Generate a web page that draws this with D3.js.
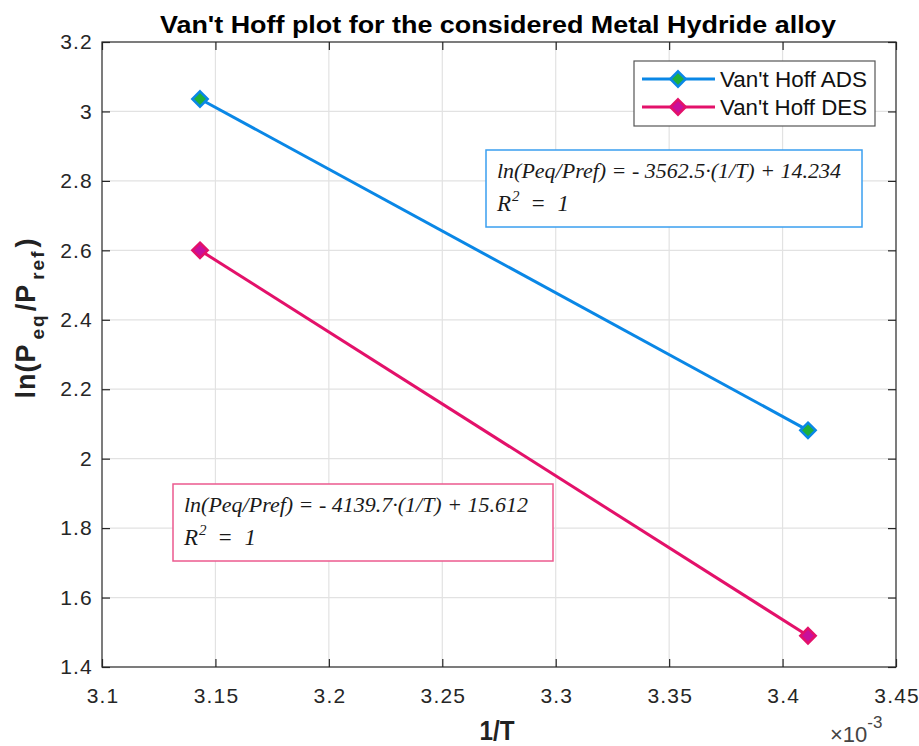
<!DOCTYPE html>
<html><head><meta charset="utf-8">
<script src="https://cdn.jsdelivr.net/npm/d3@7"></script>
<style>body{margin:0;background:#fff;} svg{display:block;}</style>
</head><body><svg id="c" width="919" height="746"></svg>
<script>
// ---- data ----
const invT = [3.1432e-3, 3.4112e-3];
const adsValues = [3.036, 2.0816];
const desValues = [2.600, 1.490];
const seriesNames = ["Van't Hoff ADS", "Van't Hoff DES"];
const xTickValues = [3.10e-3, 3.15e-3, 3.20e-3, 3.25e-3, 3.30e-3, 3.35e-3, 3.40e-3, 3.45e-3];
const xTickLabels = ["3.1", "3.15", "3.2", "3.25", "3.3", "3.35", "3.4", "3.45"];
const yTickValues = [1.4, 1.6, 1.8, 2.0, 2.2, 2.4, 2.6, 2.8, 3.0, 3.2];
const yTickLabels = ["1.4", "1.6", "1.8", "2", "2.2", "2.4", "2.6", "2.8", "3", "3.2"];
const fitEquations = ["ln(Peq/Pref) = - 3562.5·(1/T) + 14.234", "ln(Peq/Pref) = - 4139.7·(1/T) + 15.612"];
const fitR2 = ["1", "1"];
const titleText = "Van't Hoff plot for the considered Metal Hydride alloy";

// ---- layout ----
const L = 102, R = 896, T = 42, B = 667;
const axisColor = "#262626";
const adsColor = "#0a87e6", adsFill = "#1fb03a";
const desColor = "#e3116a", desFill = "#c8109c";

const svg = d3.select("#c");
const x = d3.scaleLinear().domain([3.1e-3, 3.45e-3]).range([L, R]);
const y = d3.scaleLinear().domain([1.4, 3.2]).range([B, T]);

// grid
const g = svg.append("g");
g.selectAll(".gx").data(xTickValues.slice(1, -1)).enter().append("line")
  .attr("x1", d => x(d)).attr("x2", d => x(d)).attr("y1", T).attr("y2", B)
  .attr("stroke", "#e2e2e2").attr("stroke-width", 1.2);
g.selectAll(".gy").data(yTickValues.slice(1, -1)).enter().append("line")
  .attr("y1", d => y(d)).attr("y2", d => y(d)).attr("x1", L).attr("x2", R)
  .attr("stroke", "#e2e2e2").attr("stroke-width", 1.2);

// axes
function styleAxis(sel, labels) {
  sel.select(".domain").remove();
  sel.selectAll(".tick line").attr("stroke", axisColor).attr("stroke-width", 1.2);
  sel.selectAll(".tick text").attr("fill", axisColor)
    .style("font-family", "Arial, 'Liberation Sans', sans-serif")
    .style("font-size", "21px").style("letter-spacing", "1.2px");
  if (!labels) sel.selectAll(".tick text").remove();
}
const fmtX = (d, i) => xTickLabels[i];
const fmtY = (d, i) => yTickLabels[i];
const xb = svg.append("g").attr("transform", `translate(0,${B})`)
  .call(d3.axisBottom(x).tickValues(xTickValues).tickFormat(fmtX).tickSize(-8).tickPadding(21))
  .call(s => styleAxis(s, true));
xb.selectAll(".tick text").attr("dx", "0.6px");
svg.append("g").attr("transform", `translate(0,${T})`)
  .call(d3.axisTop(x).tickValues(xTickValues).tickFormat(fmtX).tickSize(-8))
  .call(s => styleAxis(s, false));
svg.append("g").attr("transform", `translate(${L},0)`)
  .call(d3.axisLeft(y).tickValues(yTickValues).tickFormat(fmtY).tickSize(-8).tickPadding(9))
  .call(s => styleAxis(s, true));
svg.append("g").attr("transform", `translate(${R},0)`)
  .call(d3.axisRight(y).tickValues(yTickValues).tickFormat(fmtY).tickSize(-8))
  .call(s => styleAxis(s, false));
svg.append("rect").attr("x", L).attr("y", T).attr("width", R - L).attr("height", B - T)
  .attr("fill", "none").attr("stroke", axisColor).attr("stroke-width", 1.2);

// series
const diamond = d3.symbol().type(d3.symbolDiamond2).size(150);
const series = [
  { name: seriesNames[0], vals: adsValues, color: adsColor, fill: adsFill },
  { name: seriesNames[1], vals: desValues, color: desColor, fill: desFill }
];
const line = d3.line().x(d => x(d[0])).y(d => y(d[1]));
series.forEach(s => {
  const pts = invT.map((t, i) => [t, s.vals[i]]);
  svg.append("path").attr("d", line(pts)).attr("fill", "none")
    .attr("stroke", s.color).attr("stroke-width", 3);
  svg.selectAll(null).data(pts).enter().append("path")
    .attr("d", diamond).attr("transform", d => `translate(${x(d[0])},${y(d[1])})`)
    .attr("fill", s.fill).attr("stroke", s.color).attr("stroke-width", 2.5);
});

// fit annotation boxes
function fitBox(bx, by, bw, bh, color, eq, r2) {
  svg.append("rect").attr("x", bx).attr("y", by).attr("width", bw).attr("height", bh)
    .attr("fill", "#fff").attr("stroke", color).attr("stroke-width", 1.5);
  const font = "'Times New Roman', 'Liberation Serif', serif";
  svg.append("text").attr("x", bx + 11).attr("y", by + 28).text(eq)
    .attr("textLength", 344).attr("lengthAdjust", "spacingAndGlyphs")
    .style("font-family", font).style("font-style", "italic").style("font-size", "22px").attr("fill", "#1a1a1a");
  const t2 = svg.append("text").attr("x", bx + 11).attr("y", by + 61)
    .style("font-family", font).style("font-style", "italic").style("font-size", "23px").attr("fill", "#1a1a1a");
  t2.append("tspan").text("R");
  t2.append("tspan").text("2").attr("dy", -10).attr("dx", 1).style("font-size", "15px");
  t2.append("tspan").text(" = ").attr("dy", 10).attr("dx", 2).style("letter-spacing", "3px");
  t2.append("tspan").text(r2);
}
fitBox(486, 150, 376, 77, "#3a9fef", fitEquations[0], fitR2[0]);
fitBox(173, 484, 380, 77, "#ec5a8e", fitEquations[1], fitR2[1]);

// legend
const lg = svg.append("g");
lg.append("rect").attr("x", 634).attr("y", 61).attr("width", 241).attr("height", 65)
  .attr("fill", "#fff").attr("stroke", "#555").attr("stroke-width", 1.2);
series.forEach((s, i) => {
  const yy = 79 + i * 28;
  lg.append("line").attr("x1", 642).attr("x2", 715).attr("y1", yy).attr("y2", yy)
    .attr("stroke", s.color).attr("stroke-width", 3);
  lg.append("path").attr("d", diamond).attr("transform", `translate(678,${yy})`)
    .attr("fill", s.fill).attr("stroke", s.color).attr("stroke-width", 2.5);
  lg.append("text").attr("x", 720).attr("y", yy + 8).text(s.name)
    .attr("textLength", 147).attr("lengthAdjust", "spacingAndGlyphs")
    .style("font-family", "Arial, 'Liberation Sans', sans-serif").style("font-size", "22px").attr("fill", "#111");
});

// title
svg.append("text").attr("x", 498).attr("y", 33).attr("text-anchor", "middle").text(titleText)
  .attr("textLength", 676).attr("lengthAdjust", "spacingAndGlyphs")
  .style("font-family", "Arial, 'Liberation Sans', sans-serif").style("font-weight", "bold").style("font-size", "24px").attr("fill", "#000");

// x label
svg.append("text").attr("x", 497).attr("y", 740).attr("text-anchor", "middle").text("1/T")
  .attr("textLength", 35).attr("lengthAdjust", "spacingAndGlyphs")
  .style("font-family", "Arial, 'Liberation Sans', sans-serif").style("font-weight", "bold").style("font-size", "27px").attr("fill", "#222");

// exponent
const ex = svg.append("text").attr("x", 830).attr("y", 742).attr("fill", "#444")
  .style("font-family", "Arial, 'Liberation Sans', sans-serif").style("font-size", "22px");
ex.append("tspan").text("×10");
ex.append("tspan").text("-3").attr("dy", -14).style("font-size", "17px");

// y label
const yl = svg.append("text").attr("transform", "translate(35,318) rotate(-90)").attr("text-anchor", "middle")
  .style("font-family", "Arial, 'Liberation Sans', sans-serif").style("font-weight", "bold").style("font-size", "27px")
  .style("letter-spacing", "1px").attr("fill", "#222");
yl.append("tspan").text("ln(P");
yl.append("tspan").text("eq").attr("dy", 9).attr("dx", 4).style("font-size", "19px").style("letter-spacing", "2px");
yl.append("tspan").text("/P").attr("dy", -9).attr("dx", 2);
yl.append("tspan").text("ref").attr("dy", 9).attr("dx", 4).style("font-size", "19px").style("letter-spacing", "2px");
yl.append("tspan").text(")").attr("dy", -9).attr("dx", 2);
</script>
</body></html>
